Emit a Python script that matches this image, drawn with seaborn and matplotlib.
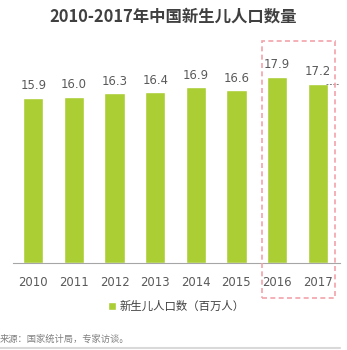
import matplotlib
matplotlib.use("Agg")
import matplotlib.pyplot as plt
import seaborn as sns
import pandas as pd
from matplotlib.patches import Rectangle
from matplotlib.lines import Line2D

years = ["2010", "2011", "2012", "2013", "2014", "2015", "2016", "2017"]
births = [15.9, 16.0, 16.3, 16.4, 16.9, 16.6, 17.9, 17.2]
title = "2010-2017年中国新生儿人口数量"
legend_label = "新生儿人口数（百万人）"
source = "来源：国家统计局，专家访谈。"

sns.set_theme(style="white")
plt.rcParams['font.family'] = ['DejaVu Sans', 'Noto Sans CJK SC']

W, H = 347, 350
fig = plt.figure(figsize=(W / 100, H / 100), dpi=100)
ax = fig.add_axes([13 / W, 1 - 263 / H, (340 - 13) / W, 208 / H])

df = pd.DataFrame({"year": years, "births": births})
bar_color = "#abce34"
sns.barplot(data=df, x="year", y="births", color=bar_color, width=0.5,
            saturation=1, ax=ax, label=legend_label)

for i, v in enumerate(births):
    ax.text(i, v + 0.55, f"{v:.1f}", ha="center", va="bottom",
            fontsize=8.4, color="#595959")

ax.set_ylim(0, 20)
ax.set_xlim(-0.5, 7.55)
ax.set_xlabel("")
ax.set_ylabel("")
ax.set_yticks([])
for s in ["top", "right", "left"]:
    ax.spines[s].set_visible(False)
ax.spines["bottom"].set_color("#a6a6a6")
ax.spines["bottom"].set_linewidth(0.8)
ax.tick_params(axis="x", length=0, pad=9, labelsize=8.4, labelcolor="#595959")

# small dashed marker at 2017 bar top
ax.plot([7.2, 7.55], [births[7], births[7]], ls=(0, (2, 1.5)), color="#808080", lw=0.7)

leg = ax.legend(loc="center", bbox_to_anchor=(0.5, -0.208), frameon=False,
                handlelength=0.7, handleheight=0.7, handletextpad=0.3,
                prop={"family": ["Noto Sans CJK SC"], "size": 8.2})
for t in leg.get_texts():
    t.set_color("#404040")

fig.text(0.5, 1 - 17 / H, title, ha="center", va="center", fontsize=11.8,
         fontweight="bold", color="#404040", family=["Noto Sans CJK SC"])
fig.text(0 / W, 1 - 339 / H, source, ha="left", va="center", fontsize=6.7,
         color="#808080", family=["Noto Sans CJK SC"])
fig.add_artist(Line2D([0, 340 / W], [1 - 348 / H, 1 - 348 / H], color="#d9d9d9", lw=1.5))

# dashed highlight box
fig.add_artist(Rectangle((262 / W, 1 - 298 / H), (335 - 262) / W, (298 - 41) / H,
                         fill=False, ls=(0, (3, 2)), ec="#f2a3aa", lw=1.2))

fig.savefig("out.png", dpi=100)
